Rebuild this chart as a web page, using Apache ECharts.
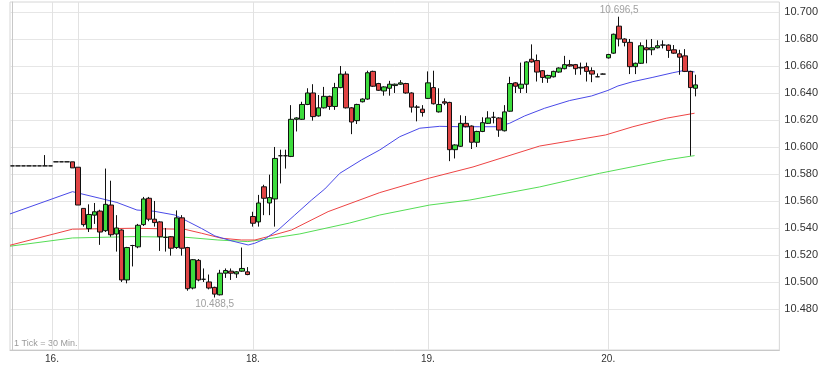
<!DOCTYPE html>
<html>
<head>
<meta charset="utf-8">
<script src="https://cdn.jsdelivr.net/npm/echarts@6/dist/echarts.min.js"></script>
<style>html,body{margin:0;padding:0;background:#fff}#c{width:821px;height:367px}</style>
</head>
<body>
<div id="c"></div>
<script>
// candles, 30 min each
const opens = [10586,10586,10586,10586,10586,10586,10586,10586,10589,10589,10589,10589,10585,10554.5,10539.5,10549.5,10552.5,10538,10557,10535.5,
10538.5,10501.5,10527,10526,10542.5,10562,10546.5,10544.5,10533,10533.5,10525.5,10547.5,10525.5,10495.5,10516,10502,10500,10496,10490.5,10506.5,
10508,10506,10508,10507.5,10548.5,10544.5,10570.5,10558.5,10561.5,10593.5,10593.5,10593,10620.5,10620.5,10631.5,10640,10623,10629,10637.5,10630,
10644,10654,10629,10619.5,10633.5,10635.5,10656,10647,10641.5,10643.5,10645.5,10646.5,10647,10640,10629.5,10628,10636,10644,10626,10633.5,
10633,10598,10600.5,10617.5,10615.5,10603.5,10611.5,10617.5,10622,10621.5,10612,10626.5,10647.5,10643.5,10646.5,10665,10664,10656.5,10651,10652,
10655.5,10658,10661,10661,10659,10659.5,10656.5,10652,10654,10666,10669.5,10689.5,10680,10677.5,10659.5,10662,10673.5,10672,10673.5,10675.5,
10675.5,10672,10669,10667.5,10656,10643.5];
const closes = [10586,10586,10586,10586,10586,10586,10586,10586,10589,10589,10589,10584.5,10557,10542.5,10550,10552,10537,10557.5,10535,10540,
10501.5,10525.5,10527,10542,10561.5,10546.5,10544,10533.5,10533,10525,10547.5,10525,10495,10516.5,10501.5,10502,10495.5,10491,10506.5,10508.5,
10506.5,10507.5,10510,10505.5,10543.5,10558.5,10562,10562.5,10591.5,10593.5,10593.5,10620.5,10621.5,10631.5,10640,10622.5,10629,10637.5,10630,10644,
10654,10629,10618.5,10631.5,10635.5,10655,10645,10642,10644.5,10646.5,10646.5,10647.5,10640,10629.5,10629.5,10625.5,10647.5,10632,10631.5,10632.5,
10598,10601.5,10617.5,10615,10603.5,10611.5,10618,10621.5,10622,10612.5,10626,10647,10645,10646.5,10663,10663,10655.5,10651.5,10653,10656,
10658.5,10661,10660,10658,10658.5,10656,10654,10652,10654,10668.5,10683.5,10680,10677.5,10659.5,10662,10675,10672,10673.5,10675,10675.5,
10671.5,10669.5,10666.5,10656,10644,10646];
const lows = [10586,10586,10586,10586,10586,10586,10586,10586,10589,10589,10589,10584.5,10557,10541,10537,10543,10527.5,10537,10533.5,10522.5,
10500,10499,10511.5,10525,10541.5,10545,10541,10523,10522.5,10519.5,10524.5,10519.5,10493.5,10494.5,10500.5,10500,10494.5,10488.5,10490,10503,
10501.5,10503,10507.5,10505,10541,10541,10549.5,10549.5,10541,10573,10584,10592.5,10611.5,10620,10631,10619.5,10622.5,10628.5,10627.5,10627.5,
10643.5,10628.5,10609.5,10617,10633,10635,10644.5,10641.5,10638,10638,10640,10646,10639.5,10625.5,10619,10622.5,10635.5,10631.5,10625.5,10631,
10589.5,10591.5,10600,10614.5,10598.5,10600,10611,10617,10617.5,10607.5,10611.5,10626,10640,10640,10640,10662.5,10648.5,10647.5,10647.5,10651.5,
10655,10657.5,10659.5,10653.5,10653.5,10648.5,10648,10652,10654,10665.5,10669,10674.5,10674.5,10654,10654,10661.5,10662,10668,10673,10673,
10666,10669,10653.5,10655.5,10593.5,10637.5];
const highs = [10586,10586,10586,10586,10586,10586,10594,10586,10589,10589,10589,10589,10585,10554.5,10557.5,10558.5,10553.5,10584,10575,10549.5,
10539,10526,10527.5,10543,10563,10563,10560,10545,10540,10534,10553,10549.5,10526,10517,10517,10510,10505.5,10496.5,10509,10510,
10510,10508,10525.5,10511,10552,10564.5,10572,10579.5,10600,10598,10598,10631,10622,10633.5,10643.5,10646.5,10638.5,10644.5,10638,10647.5,
10660,10656,10629.5,10632,10636,10656.5,10656.5,10647.5,10645,10649,10647,10649.5,10647.5,10640.5,10631,10631,10656,10656.5,10643.5,10636,
10633.5,10602,10623.5,10623,10616,10612,10622,10626.5,10626,10622,10631,10652,10648,10662.5,10663.5,10676,10668.5,10657,10653.5,10656.5,
10659,10667.5,10664.5,10661.5,10662.5,10662.5,10659,10654.5,10654.5,10669,10684,10696.5,10680.5,10680,10662.5,10677.5,10679.5,10680,10679,10679,
10676,10675.5,10672,10672.5,10656.5,10653.5];

// moving averages: [candle index, value]
const maBlue = [[-0.44,10550.4],[10.99,10566.9],[16.01,10562],[19.12,10558.9],[22.78,10553.3],[25.89,10552.4],[29.73,10549.6],[32.16,10544.7],
[34.61,10539.6],[37.04,10534.1],[40.15,10530.4],[43.13,10527.4],[44.35,10528.7],[46.18,10531.9],[48.61,10538.5],[51.66,10549.6],[54.72,10560.7],
[57.15,10568.9],[59.89,10580.5],[63.86,10590.4],[67.2,10597.8],[70.86,10607.6],[74.52,10613.9],[78.17,10615.3],[81.83,10615],[85.49,10615],
[88.78,10615],[90.97,10617.6],[93.71,10623],[97.36,10628.7],[101.94,10634.4],[105.96,10637.8],[108.94,10641.9],[110.77,10645.2],[113.51,10648.4],
[117.17,10651.6],[120.82,10655],[122.65,10656.5],[124.79,10655.6]];
const maRed = [[-0.44,10527.2],[10.99,10539.1],[22.41,10539.8],[31.55,10539],[34.61,10536.1],[38.26,10532.4],[41.92,10531.1],[44.35,10531.1],
[46.49,10533.3],[51.06,10538.5],[57.75,10552.1],[67.2,10566.2],[76.34,10577],[84.26,10585.2],[96.45,10600.7],[108.52,10608.9],[113.51,10615],
[119.62,10621.3],[124.79,10625]];
const maGreen = [[-0.44,10526.5],[10.99,10532.6],[22.05,10533.6],[31.74,10533.1],[37.59,10531.1],[43.07,10529.9],[46.18,10531.6],[52.58,10535.6],
[61.71,10543.7],[67.2,10549.6],[76.34,10557],[83.66,10560.7],[96.45,10570.4],[107.42,10580.5],[113.51,10585.4],[119.62,10590.4],[124.79,10593.6]];

// axis labels
const dayTicks = [7.24, 12, 44, 76, 109];
const dayLabelPos = [7.24, 44, 76, 109];
const dayLabels = ['16.', '18.', '19.', '20.'];
const yTicks = [10480,10500,10520,10540,10560,10580,10600,10620,10640,10660,10680,10700];

const candleData = opens.map((o, i) => [i, o, closes[i], lows[i], highs[i]]);

function fmtDE(v, dec) {
  const s = v.toFixed(dec).split('.');
  const int = s[0].replace(/\B(?=(\d{3})+(?!\d))/g, '.');
  return dec ? int + ',' + s[1] : int;
}

const chart = echarts.init(document.getElementById('c'), null, {renderer: 'canvas'});
const font = 'Arial, "Liberation Sans", sans-serif';
chart.setOption({
  animation: false,
  backgroundColor: '#fff',
  grid: {left: 10, right: 41, top: 2, bottom: 17, show: true, borderColor: '#d6d6d6', borderWidth: 1, containLabel: false},
  xAxis: {
    type: 'value', min: -0.44, max: 140.3,
    axisLine: {show: true, lineStyle: {color: '#c8c8c8'}},
    axisTick: {show: false, customValues: dayTicks},
    axisLabel: {customValues: dayLabelPos, color: '#333', fontSize: 10, fontFamily: font, margin: 4,
      formatter: v => { const k = dayLabelPos.findIndex(p => Math.abs(p - v) < 0.01); return k >= 0 ? dayLabels[k] : ''; }},
    splitLine: {show: true, lineStyle: {color: '#e2e2e2', width: 1}}
  },
  yAxis: {
    type: 'value', position: 'right', min: 10449.6, max: 10707.4, scale: true,
    axisLine: {show: true, lineStyle: {color: '#c8c8c8'}},
    axisTick: {show: false, customValues: yTicks},
    axisLabel: {customValues: yTicks, color: '#333', fontSize: 11, fontFamily: font, margin: 5,
      formatter: v => fmtDE(v, 0)},
    splitLine: {show: true, lineStyle: {color: '#e6e6e6', width: 1}}
  },
  graphic: [{type: 'text', left: 14, top: 339, style: {text: '1 Tick = 30 Min.', fill: '#9a9a9a', fontSize: 9, fontFamily: font}}],
  series: [
    {type: 'line', data: maGreen, symbol: 'none', lineStyle: {color: '#55dd55', width: 1}, z: 2},
    {type: 'line', data: maRed, symbol: 'none', lineStyle: {color: '#ee4444', width: 1}, z: 2},
    {type: 'line', data: maBlue, symbol: 'none', lineStyle: {color: '#4a4ae8', width: 1}, z: 2},
    {
      type: 'candlestick', data: candleData, encode: {x: 0, y: [1, 2, 3, 4]}, barWidth: 5, z: 3,
      itemStyle: {color: '#3ddc3d', color0: '#e04444', borderColor: '#111', borderColor0: '#111', borderWidth: 1},
      markPoint: {
        symbol: 'rect', symbolSize: 0, silent: true,
        data: [
          {coord: [111, 10696.5], label: {show: true, position: 'top', distance: 1, formatter: fmtDE(10696.5, 1), color: '#a0a0a0', fontSize: 10, fontFamily: font}},
          {coord: [37, 10488.5], label: {show: true, position: 'bottom', distance: 2, formatter: fmtDE(10488.5, 1), color: '#a0a0a0', fontSize: 10, fontFamily: font}}
        ]
      }
    }
  ]
});
</script>
</body>
</html>
